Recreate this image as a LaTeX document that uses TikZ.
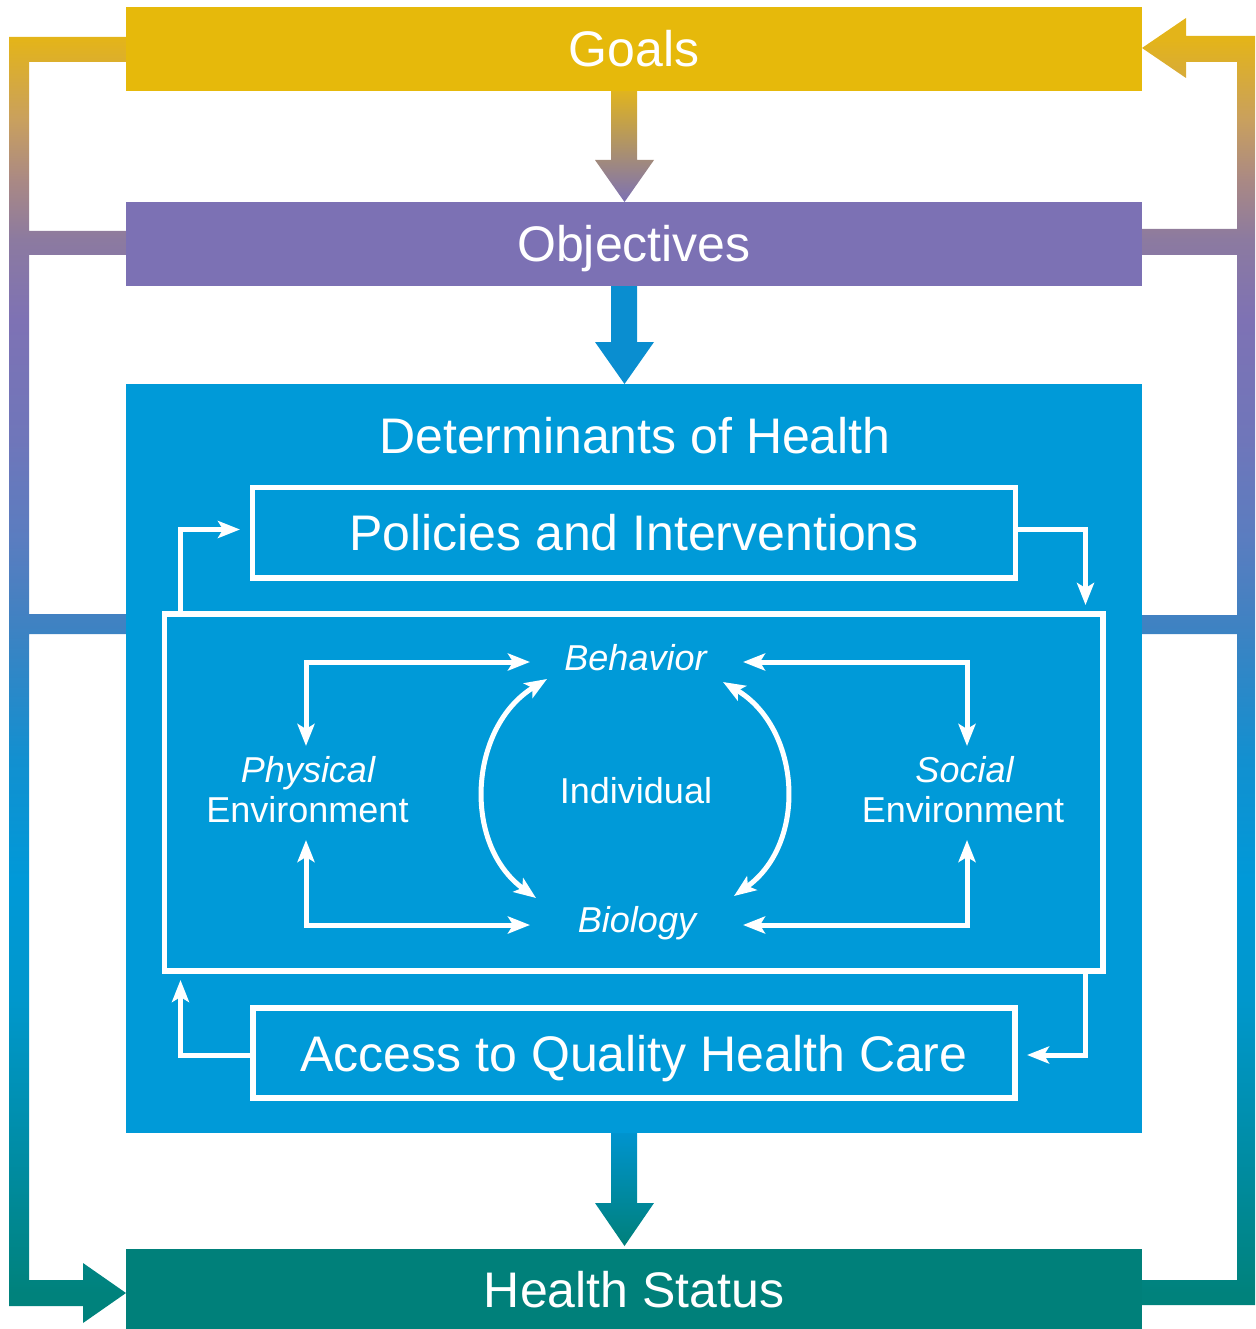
\documentclass[tikz,border=0pt]{standalone}
\usepackage{fontspec}
\setmainfont{Liberation Sans}
\usetikzlibrary{arrows.meta}
\definecolor{goldc}{HTML}{E6B90B}
\definecolor{purplec}{HTML}{7C71B4}
\definecolor{bluec}{HTML}{009AD8}
\definecolor{tealc}{HTML}{00807A}
\definecolor{midblue}{HTML}{0A8ED0}
\definecolor{arrgold}{HTML}{E2B51C}
\definecolor{arrblue}{HTML}{0094D0}
\definecolor{sa}{HTML}{00827C}
\definecolor{sb}{HTML}{008FAE}
\definecolor{sc}{HTML}{0097CC}
\definecolor{sd}{HTML}{0099D8}
\definecolor{se}{HTML}{1290D0}
\definecolor{sf}{HTML}{3F82C2}
\definecolor{sg}{HTML}{5A7DC0}
\definecolor{sh}{HTML}{6F76BA}
\definecolor{si}{HTML}{7E72B4}
\definecolor{sj}{HTML}{8C7AA0}
\definecolor{sk}{HTML}{AA8984}
\definecolor{sl}{HTML}{C9A05E}
\definecolor{sm}{HTML}{E3B41A}
\pgfdeclareverticalshading{brk}{100bp}{color(0bp)=(sa); color(25bp)=(sa); color(26.35bp)=(sa); color(32.86bp)=(sb); color(37.38bp)=(sc); color(41.89bp)=(sd); color(46.41bp)=(se); color(51.52bp)=(sf); color(54.68bp)=(sg); color(58.45bp)=(sh); color(62.96bp)=(si); color(65.97bp)=(sj); color(68.23bp)=(sk); color(70.49bp)=(sl); color(73.5bp)=(sm); color(75bp)=(sm); color(100bp)=(sm)}
\tikzset{
  bigbox/.style={draw=none, inner sep=0pt, outer sep=0pt, text=white,
    font=\fontsize{50}{60}\selectfont, text height=36pt, text depth=0pt,
    minimum width=1016pt},
  wbox/.style={draw=white, line width=5.5pt, inner sep=0pt, outer sep=0pt, text=white,
    font=\fontsize{50}{60}\selectfont, text height=36pt, text depth=0pt},
  title/.style={inner sep=0pt, text=white, font=\fontsize{50}{60}\selectfont,
    text height=36pt, text depth=0pt},
  small/.style={inner sep=0pt, text=white, font=\fontsize{36}{40}\selectfont,
    text height=26pt, text depth=0pt},
  smallit/.style={small, font=\fontsize{36}{40}\selectfont\itshape},
  wline/.style={draw=white, line width=5pt},
  warr/.style={wline, -{Stealth[length=22pt,width=17pt,inset=5pt]}},
  wdbl/.style={wline, {Stealth[length=22pt,width=17pt,inset=5pt]}-{Stealth[length=22pt,width=17pt,inset=5pt]}},
}
\begin{document}
\begin{tikzpicture}[x=1pt,y=-1pt]
\useasboundingbox (0,0) rectangle (1255,1329);
% feedback brackets with vertical gradient
\begin{scope}
\clip (130,37) -- (9,37) -- (9,1306) -- (83,1306) -- (83,1323) -- (126,1293) -- (83,1263) -- (83,1280) -- (29,1280) -- (29,634) -- (130,634) -- (130,614) -- (29,614) -- (29,255) -- (130,255) -- (130,231) -- (29,231) -- (29,62) -- (130,62) -- cycle
 (1142,48) -- (1186,18) -- (1186,36) -- (1255,36) -- (1255,1305) -- (1138,1305) -- (1138,1280) -- (1237,1280) -- (1237,634) -- (1138,634) -- (1138,615) -- (1237,615) -- (1237,255) -- (1138,255) -- (1138,229) -- (1237,229) -- (1237,62) -- (1186,62) -- (1186,78) -- cycle;
\shade[shading=brk] (0,0) rectangle (1255,1329);
\end{scope}
% central arrows
\shade[top color=arrgold, bottom color=purplec] (611,89) -- (637,89) -- (637,160) -- (654,160) -- (624.5,202) -- (595,160) -- (611,160) -- cycle;
\fill[midblue] (611,284) -- (637,284) -- (637,342) -- (654,342) -- (624.5,384) -- (595,342) -- (611,342) -- cycle;
\shade[top color=arrblue, bottom color=tealc] (611,1131) -- (637,1131) -- (637,1203) -- (654,1203) -- (624.5,1246) -- (595,1203) -- (611,1203) -- cycle;
% main boxes
\node[bigbox, fill=goldc, minimum height=84pt] (goals) at (634,49) {Goals};
\node[bigbox, fill=purplec, minimum height=84pt] (obj) at (634,244) {Objectives};
\node[bigbox, fill=bluec, minimum height=749pt] (det) at (634,758.5) {};
\node[bigbox, fill=tealc, minimum height=80pt] (health) at (634,1289) {Health Status};
\node[title] (dettitle) at (635,435) {Determinants of Health};
% white boxes
\node[wbox, minimum width=763pt, minimum height=90.5pt] (pol) at (634,532.75) {Policies and Interventions};
\node[wbox, minimum width=938.5pt, minimum height=357pt] (indiv) at (633.75,792.5) {};
\node[wbox, minimum width=762pt, minimum height=90pt] (acc) at (634,1053) {Access to Quality Health Care};
% inner labels
\node[smallit] (beh) at (635.5,657.5) {Behavior};
\node[small] (ind) at (636,790.5) {Individual};
\node[smallit] (bio) at (637,919.5) {Biology};
\node[smallit] (phys) at (308,769) {Physical};
\node[small] (physenv) at (307.5,809) {Environment};
\node[smallit] (soc) at (964.5,769) {Social};
\node[small] (socenv) at (963,809) {Environment};
% outer white connectors
\coordinate (c1) at (180.5,614);
\coordinate (c2) at (240,529.5);
\draw[warr] (c1) |- (c2);
\coordinate (c3) at (1015.5,529.5);
\coordinate (c4) at (1085.5,605);
\draw[warr] (c3) -| (c4);
\coordinate (c5) at (1085.5,971);
\coordinate (c6) at (1027,1055);
\draw[warr] (c5) |- (c6);
\coordinate (c7) at (253,1055.5);
\coordinate (c8) at (180.5,980);
\draw[warr] (c7) -| (c8);
% inner connectors
\coordinate (p1) at (306,746);
\coordinate (p2) at (530,662);
\coordinate (p3) at (306,840);
\coordinate (p4) at (530,925);
\coordinate (s1) at (967,746);
\coordinate (s2) at (743,662);
\coordinate (s3) at (967,840);
\coordinate (s4) at (743,925);
\draw[wdbl] (p1) |- (p2);
\draw[wdbl] (p3) |- (p4);
\draw[wdbl] (s1) |- (s2);
\draw[wdbl] (s3) |- (s4);
\coordinate (a1) at (547,679);
\coordinate (a2) at (536,898);
\coordinate (a3) at (723,682);
\coordinate (a4) at (734,896);
\draw[wdbl] (a1) .. controls (469,727) and (462,844) .. (a2);
\draw[wdbl] (a3) .. controls (801,728) and (808,843) .. (a4);
\end{tikzpicture}
\end{document}
